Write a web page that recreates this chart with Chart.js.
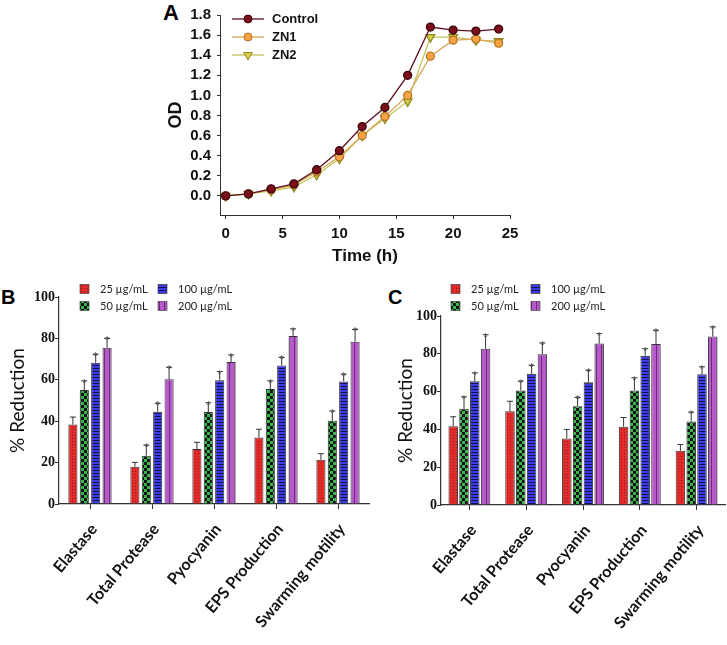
<!DOCTYPE html>
<html>
<head>
<meta charset="utf-8">
<script src="https://cdn.jsdelivr.net/npm/chart.js@4.4.1/dist/chart.umd.min.js"></script>
<style>
  body { margin: 0; background: #fff; width: 727px; height: 645px; position: relative; overflow: hidden; }
  canvas, .tag { position: absolute; }
  .tag { font: bold 22px "Liberation Sans", Arial, sans-serif; line-height: 1; color: #000; }
</style>
</head>
<body>
<div class="tag" style="left:163px;top:2px">A</div>
<div class="tag" style="left:1px;top:287px;font-size:20px">B</div>
<div class="tag" style="left:388px;top:287px;font-size:20px">C</div>
<canvas id="growth" width="420" height="268" style="left:120px;top:0"></canvas>
<canvas id="panelB" width="372" height="375" style="left:0;top:270px"></canvas>
<canvas id="panelC" width="355" height="375" style="left:372px;top:270px"></canvas>
<script>
// --- panel A: growth curves ---
const hours = [0, 2, 4, 6, 8, 10, 12, 14, 16, 18, 20, 22, 24];
const control = [0.00, 0.02, 0.07, 0.12, 0.26, 0.45, 0.69, 0.88, 1.20, 1.68, 1.65, 1.64, 1.66];
const zn1 = [0.00, 0.02, 0.06, 0.11, 0.24, 0.39, 0.60, 0.79, 1.00, 1.39, 1.55, 1.56, 1.52];
const zn2 = [0.00, 0.02, 0.05, 0.09, 0.21, 0.37, 0.60, 0.77, 0.94, 1.58, 1.58, 1.55, 1.54];
const odTicks = [0, 0.2, 0.4, 0.6, 0.8, 1.0, 1.2, 1.4, 1.6, 1.8];
const hourTicks = [0, 5, 10, 15, 20, 25];

// --- panels B and C: % reduction ---
const assays = ['Elastase', 'Total Protease', 'Pyocyanin', 'EPS Production', 'Swarming motility'];
const doses = ['25 µg/mL', '50 µg/mL', '100 µg/mL', '200 µg/mL'];
const pctTicks = [0, 20, 40, 60, 80, 100];
const starred = [false, true, true, true];

const b25 = [38.4, 18.0, 26.6, 32.1, 21.4];
const b50 = [55.1, 23.3, 44.4, 55.6, 40.2];
const b100 = [68.2, 44.6, 59.8, 66.9, 59.2];
const b200 = [75.5, 60.3, 68.6, 81.2, 78.4];
const b25Sd = [3.6, 2.1, 3.2, 4.0, 2.9];
const b50Sd = [4.4, 5.1, 4.5, 3.9, 4.7];
const b100Sd = [4.1, 4.0, 4.2, 3.9, 3.5];
const b200Sd = [4.5, 5.7, 3.4, 3.4, 5.9];

const c25 = [41.7, 49.6, 35.2, 41.4, 28.7];
const c50 = [50.9, 60.6, 52.3, 60.6, 44.2];
const c100 = [65.5, 69.4, 65.0, 79.0, 69.2];
const c200 = [82.7, 79.8, 85.4, 85.2, 89.1];
const c25Sd = [5.0, 5.3, 4.8, 4.9, 3.3];
const c50Sd = [6.3, 4.9, 4.6, 6.7, 4.9];
const c100Sd = [4.4, 4.5, 6.3, 3.7, 3.9];
const c200Sd = [7.4, 5.9, 5.3, 7.2, 5.1];

const ink = '#111';
const sans = '"Liberation Sans", Arial, sans-serif';

function makePattern(w, h, bg, fg, paint) {
  const c = document.createElement('canvas');
  c.width = w;
  c.height = h;
  const g = c.getContext('2d');
  g.fillStyle = bg;
  g.fillRect(0, 0, w, h);
  g.fillStyle = fg;
  paint(g);
  return g.createPattern(c, 'repeat');
}

const fills = [
  makePattern(3, 3, '#e52a2a', '#86201f', (g) => g.fillRect(0, 0, 1, 1)),
  makePattern(6, 6, '#36b64c', '#111', (g) => { g.fillRect(0, 0, 3, 3); g.fillRect(3, 3, 3, 3); }),
  makePattern(4, 3, '#3b3bec', '#14144a', (g) => g.fillRect(0, 2, 4, 1)),
  makePattern(5, 4, '#b55ac8', '#6c2c7a', (g) => g.fillRect(4, 0, 1, 4)),
];

// error bars + significance stars, positioned with the y scale
const errorBars = {
  id: 'errorBars',
  afterDatasetsDraw(chart) {
    const { ctx } = chart;
    const yScale = chart.scales.y;
    ctx.save();
    chart.data.datasets.forEach((ds, i) => {
      chart.getDatasetMeta(i).data.forEach((bar, j) => {
        const top = yScale.getPixelForValue(ds.data[j] + ds.sd[j]);
        ctx.strokeStyle = '#333';
        ctx.lineWidth = 1;
        ctx.beginPath();
        ctx.moveTo(bar.x, bar.y);
        ctx.lineTo(bar.x, top);
        ctx.moveTo(bar.x - 3, top);
        ctx.lineTo(bar.x + 3, top);
        ctx.stroke();
        if (ds.starred) {
          ctx.fillStyle = '#555';
          ctx.font = '11px ' + sans;
          ctx.textAlign = 'center';
          ctx.textBaseline = 'alphabetic';
          ctx.fillText('*', bar.x, top + 6);
        }
      });
    });
    ctx.restore();
  },
};

// 2 x 2 key used on the bar panels
const doseKey = {
  id: 'doseKey',
  afterDraw(chart, args, opts) {
    const { ctx } = chart;
    ctx.save();
    ctx.font = '11px Lato, sans-serif';
    ctx.textBaseline = 'middle';
    chart.data.datasets.forEach((ds, i) => {
      const x = opts.x + Math.floor(i / 2) * opts.colGap;
      const y = opts.y + (i % 2) * opts.rowGap;
      ctx.fillStyle = ds.backgroundColor;
      ctx.fillRect(x, y - 4.5, 9, 9);
      ctx.strokeStyle = '#333';
      ctx.lineWidth = 0.6;
      ctx.strokeRect(x, y - 4.5, 9, 9);
      ctx.fillStyle = '#222';
      ctx.fillText(ds.label, x + 20, y);
    });
    ctx.restore();
  },
};

// line + marker key for panel A
const growthKey = {
  id: 'growthKey',
  afterDraw(chart, args, opts) {
    const { ctx } = chart;
    ctx.save();
    ctx.font = 'bold 13px ' + sans;
    ctx.textBaseline = 'middle';
    chart.data.datasets.forEach((ds, i) => {
      const y = opts.y + i * opts.rowGap;
      ctx.strokeStyle = ds.borderColor;
      ctx.lineWidth = 1.3;
      ctx.beginPath();
      ctx.moveTo(opts.x, y);
      ctx.lineTo(opts.x + 32, y);
      ctx.stroke();
      ctx.fillStyle = ds.pointBackgroundColor;
      ctx.strokeStyle = ds.pointBorderColor;
      ctx.lineWidth = 1;
      Chart.helpers.drawPoint(ctx, {
        pointStyle: ds.pointStyle, radius: ds.pointRadius, rotation: ds.pointRotation || 0, borderWidth: 1,
      }, opts.x + 16, y);
      ctx.fillStyle = ink;
      ctx.fillText(ds.label, opts.x + 40, y);
    });
    ctx.restore();
  },
};

function pairs(ys) {
  return hours.map((h, i) => ({ x: h, y: ys[i] }));
}

new Chart(document.getElementById('growth'), {
  type: 'line',
  data: {
    datasets: [
      {
        label: 'Control', data: pairs(control), borderColor: '#5c0f1c', borderWidth: 1.3,
        pointStyle: 'circle', pointRadius: 4, pointBackgroundColor: '#7a0e1a', pointBorderColor: '#3a070c',
      },
      {
        label: 'ZN1', data: pairs(zn1), borderColor: '#d9a55a', borderWidth: 1.3,
        pointStyle: 'circle', pointRadius: 4, pointBackgroundColor: '#f6a444', pointBorderColor: '#b87425',
      },
      {
        label: 'ZN2', data: pairs(zn2), borderColor: '#c2c45a', borderWidth: 1.3,
        pointStyle: 'triangle', pointRotation: 180, pointRadius: 5, pointBackgroundColor: '#d8cf48', pointBorderColor: '#8e8a20',
      },
    ],
  },
  options: {
    responsive: false,
    animation: false,
    layout: { padding: { left: 41, right: 30, top: 13, bottom: 0 } },
    plugins: {
      legend: { display: false },
      tooltip: { enabled: false },
      growthKey: { x: 112, y: 19, rowGap: 18 },
    },
    scales: {
      x: {
        type: 'linear',
        min: -0.5,
        max: 25,
        afterBuildTicks: (s) => { s.ticks = hourTicks.map((v) => ({ value: v })); },
        afterFit: (s) => { s.height = 53; },
        grid: { drawOnChartArea: false, tickLength: 4, color: '#333' },
        border: { color: '#333' },
        ticks: { font: { family: sans, weight: 'bold', size: 15 }, color: ink, padding: 6, maxRotation: 0 },
        title: {
          display: true, text: 'Time (h)', color: ink,
          font: { family: sans, weight: 'bold', size: 17 }, padding: { top: 0, bottom: 1 },
        },
      },
      y: {
        min: -0.19,
        max: 1.8,
        afterBuildTicks: (s) => { s.ticks = odTicks.map((v) => ({ value: v })); },
        afterFit: (s) => { s.width = 59; },
        grid: { drawOnChartArea: false, tickLength: 3, color: '#333' },
        border: { color: '#333' },
        ticks: { font: { family: sans, weight: 'bold', size: 15 }, color: ink, padding: 6, callback: (v) => v.toFixed(1) },
        title: {
          display: true, text: 'OD', color: ink,
          font: { family: sans, weight: 'bold', size: 18 }, padding: { top: 4, bottom: 0 },
        },
      },
    },
  },
  plugins: [growthKey],
});

function reductionChart(id, series, sds, opts) {
  return new Chart(document.getElementById(id), {
    type: 'bar',
    data: {
      labels: assays,
      datasets: series.map((vals, i) => ({
        label: doses[i],
        data: vals,
        sd: sds[i],
        starred: starred[i],
        backgroundColor: fills[i],
        borderColor: '#333',
        borderWidth: 1,
        categoryPercentage: opts.catPct,
        barPercentage: opts.barPct,
      })),
    },
    options: {
      responsive: false,
      animation: false,
      layout: { padding: opts.padding },
      plugins: {
        legend: { display: false },
        tooltip: { enabled: false },
        doseKey: opts.key,
      },
      scales: {
        x: {
          afterFit: (s) => { s.height = opts.xHeight; },
          grid: { offset: false, drawOnChartArea: false, tickLength: 5, color: '#333' },
          border: { color: '#333', width: 1.2 },
          ticks: {
            font: { family: 'Lato, sans-serif', weight: 'bold', size: 16 }, color: ink,
            minRotation: 50, maxRotation: 50, autoSkip: false, padding: 11, labelOffset: 4,
          },
        },
        y: {
          min: 0,
          max: 100,
          afterBuildTicks: (s) => { s.ticks = pctTicks.map((v) => ({ value: v })); },
          afterFit: (s) => { s.width = opts.yWidth; },
          grid: { drawOnChartArea: false, tickLength: 4, color: '#333' },
          border: { color: '#333', width: 1.2 },
          ticks: { font: { family: '"Liberation Serif", serif', weight: 'bold', size: 14 }, color: ink, padding: 0 },
          title: {
            display: true, text: '% Reduction', color: ink,
            font: { family: 'Lato, sans-serif', size: 19 }, padding: { top: 4, bottom: 0 },
          },
        },
      },
    },
    plugins: [errorBars, doseKey],
  });
}

reductionChart('panelB', [b25, b50, b100, b200], [b25Sd, b50Sd, b100Sd, b200Sd], {
  padding: { left: 2, right: 3, top: 27, bottom: 0 },
  yWidth: 57,
  xHeight: 141,
  catPct: 0.735,
  barPct: 0.8,
  key: { x: 80, y: 19, colGap: 78, rowGap: 17 },
});

reductionChart('panelC', [c25, c50, c100, c200], [c25Sd, c50Sd, c100Sd, c200Sd], {
  padding: { left: 18, right: 2, top: 46, bottom: 0 },
  yWidth: 51,
  xHeight: 140,
  catPct: 0.76,
  barPct: 0.88,
  key: { x: 79, y: 19, colGap: 80, rowGap: 17 },
});
</script>
</body>
</html>
